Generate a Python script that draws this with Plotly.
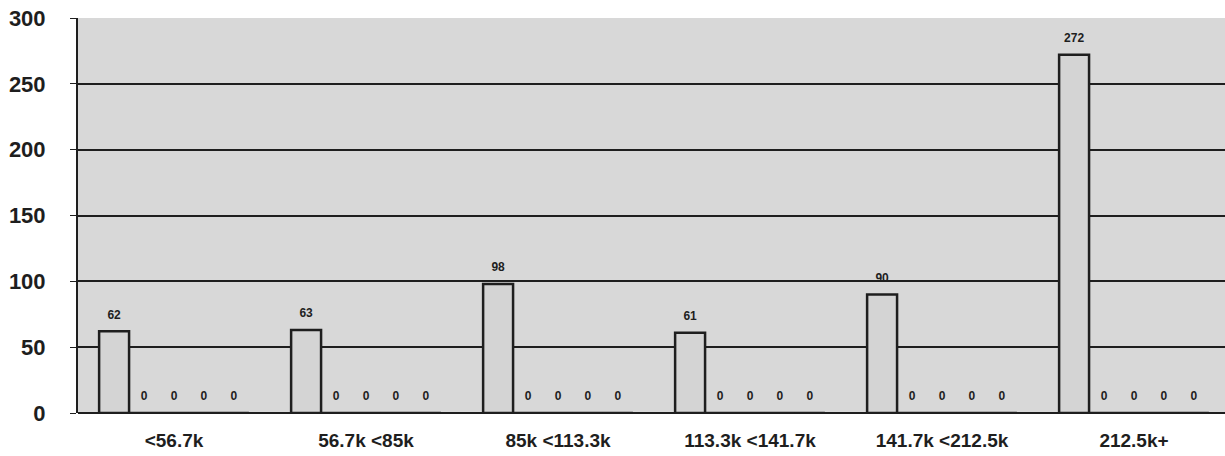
import plotly.graph_objects as go

categories = ["<56.7k", "56.7k <85k", "85k <113.3k", "113.3k <141.7k", "141.7k <212.5k", "212.5k+"]
series_a = [62, 63, 98, 61, 90, 272]
series_b = [0, 0, 0, 0, 0, 0]
series_c = [0, 0, 0, 0, 0, 0]
series_d = [0, 0, 0, 0, 0, 0]
series_e = [0, 0, 0, 0, 0, 0]
y_ticks = [0, 50, 100, 150, 200, 250, 300]

BG = "#d8d8d8"
INK = "#1e1e1e"
GAP = 0.22

series = [("a", series_a), ("b", series_b), ("c", series_c), ("d", series_d), ("e", series_e)]

fig = go.Figure()
for name, vals in series:
    fig.add_trace(
        go.Bar(
            x=categories,
            y=vals,
            name=name,
            marker=dict(color="#d4d4d4", line=dict(color=INK, width=2.5)),
        )
    )

# value labels: grouped scatter traces so they line up with the bars,
# an invisible marker keeps the text lifted off the bar top
for name, vals in series:
    fig.add_trace(
        go.Scatter(
            x=categories,
            y=vals,
            name=name + "_lbl",
            mode="markers+text",
            text=vals,
            textposition="top center",
            textfont=dict(family="Liberation Sans, Arial", size=12, color=INK, weight="bold"),
            marker=dict(size=14, opacity=0),
            cliponaxis=False,
            hoverinfo="skip",
        )
    )

fig.update_layout(
    width=1225,
    height=456,
    margin=dict(l=78, r=0, t=18, b=43),
    paper_bgcolor="white",
    plot_bgcolor=BG,
    barmode="group",
    bargap=GAP,
    bargroupgap=0.0,
    scattermode="group",
    scattergap=GAP,
    showlegend=False,
    font=dict(family="Liberation Sans, Arial", color=INK),
)
fig.update_xaxes(
    range=[-0.5, 5.474],
    automargin=False,
    showgrid=False,
    showline=False,
    tickfont=dict(size=19, weight="bold"),
    ticks="",
    ticklabelstandoff=14,
)
fig.update_yaxes(
    range=[0, 300],
    automargin=False,
    tickvals=y_ticks,
    showgrid=True,
    gridcolor=INK,
    gridwidth=2,
    zeroline=True,
    zerolinecolor=INK,
    zerolinewidth=2,
    showline=True,
    linecolor=INK,
    linewidth=2,
    ticks="outside",
    ticklen=6,
    tickcolor=INK,
    tickfont=dict(size=22, weight="bold"),
    ticklabelstandoff=20,
)

fig.write_html(
    "out.html",
    config={"displayModeBar": False},
    post_script="document.body.style.margin='0';",
)
